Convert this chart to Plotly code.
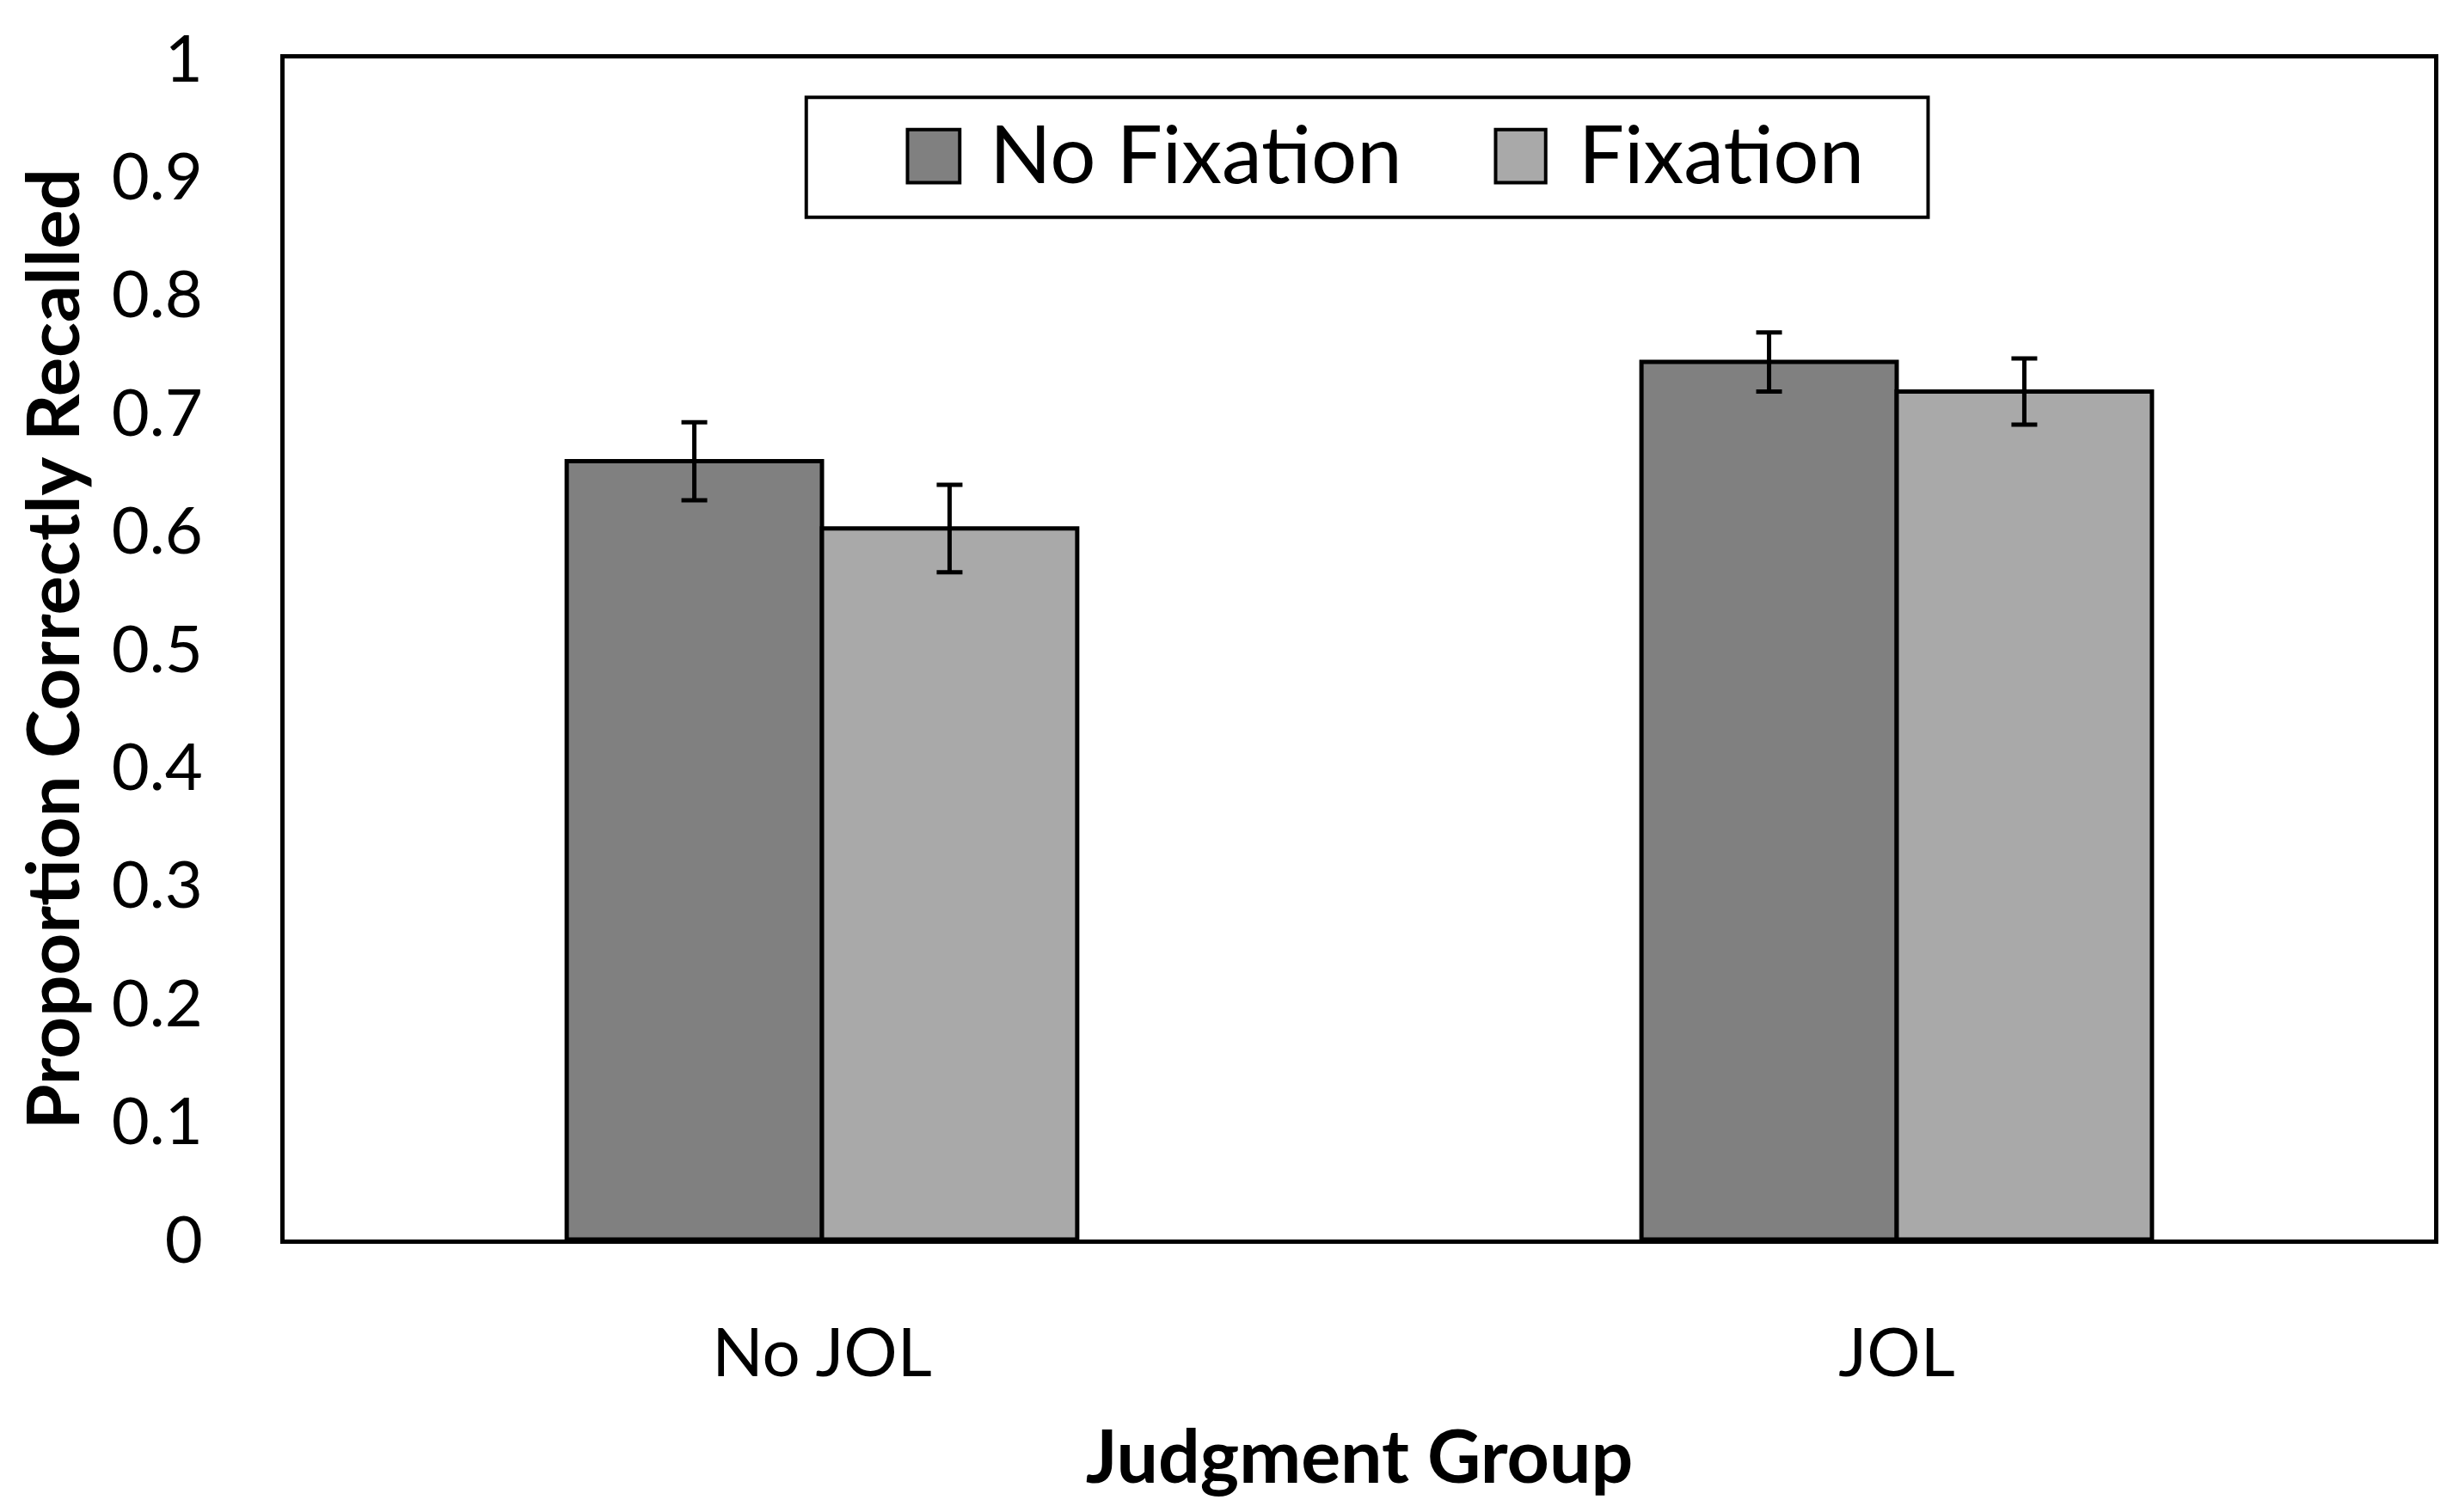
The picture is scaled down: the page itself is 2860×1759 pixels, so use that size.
import plotly.graph_objects as go

categories = ["No JOL", "JOL"]
series_names = ["No Fixation", "Fixation"]
no_fixation = [0.659, 0.743]
no_fixation_err = [0.033, 0.025]
fixation = [0.602, 0.718]
fixation_err = [0.037, 0.028]
y_ticks = [0, 0.1, 0.2, 0.3, 0.4, 0.5, 0.6, 0.7, 0.8, 0.9, 1]
y_tick_labels = ["0", "0.1", "0.2", "0.3", "0.4", "0.5", "0.6", "0.7", "0.8", "0.9", "1"]

FONT = "Lato"
colors = ["#808080", "#A9A9A9"]
values = [no_fixation, fixation]
errors = [no_fixation_err, fixation_err]

fig = go.Figure()
for name, vals, errs, col in zip(series_names, values, errors, colors):
    fig.add_trace(go.Bar(
        x=categories, y=vals, name=name, showlegend=False,
        marker=dict(color=col, line=dict(color="black", width=5)),
        error_y=dict(type="data", array=errs, visible=True,
                     color="black", thickness=5, width=15),
    ))

# Legend drawn as a framed box with swatches (layout decoration, paper coords)
legend_box = dict(x0=0.2427, x1=0.7646, y0=0.8656, y1=0.9671)
swatch_x = [(0.2898, 0.3141), (0.5634, 0.5867)]
swatch_y = (0.8949, 0.9398)
label_x = [0.3273, 0.6013]
label_y = 0.921

shapes = [dict(type="rect", xref="paper", yref="paper",
               x0=legend_box["x0"], x1=legend_box["x1"],
               y0=legend_box["y0"], y1=legend_box["y1"],
               line=dict(color="black", width=4), fillcolor="white", layer="above")]
annotations = []
for (sx0, sx1), col, lx, name in zip(swatch_x, colors, label_x, series_names):
    shapes.append(dict(type="rect", xref="paper", yref="paper",
                       x0=sx0, x1=sx1, y0=swatch_y[0], y1=swatch_y[1],
                       line=dict(color="black", width=4), fillcolor=col, layer="above"))
    annotations.append(dict(xref="paper", yref="paper", x=lx, y=label_y,
                            xanchor="left", yanchor="middle", showarrow=False,
                            text=name, font=dict(size=94, family=FONT, color="black")))

fig.update_layout(
    width=2860, height=1759,
    margin=dict(l=323, r=37, t=46, b=325),
    paper_bgcolor="white", plot_bgcolor="white",
    barmode="group", bargap=0.525, bargroupgap=0,
    font=dict(family=FONT, color="black"),
    showlegend=False,
    shapes=shapes, annotations=annotations,
    xaxis=dict(
        showline=True, linecolor="black", linewidth=5, mirror=True,
        ticks="", tickfont=dict(size=78, family=FONT),
        ticklabelstandoff=60,
        title=dict(text="<b>Judgment Group</b>", font=dict(size=86, family=FONT), standoff=50),
    ),
    yaxis=dict(
        range=[0, 1], tickvals=y_ticks, ticktext=y_tick_labels,
        showline=True, linecolor="black", linewidth=5, mirror=True,
        showgrid=False, zeroline=False, ticks="",
        tickfont=dict(size=76, family=FONT), ticklabelstandoff=75,
        ticklabeloverflow="allow",
        title=dict(text="<b>Proportion Correctly Recalled</b>", font=dict(size=85, family=FONT), standoff=36),
    ),
)

fig.write_html("out.html")
